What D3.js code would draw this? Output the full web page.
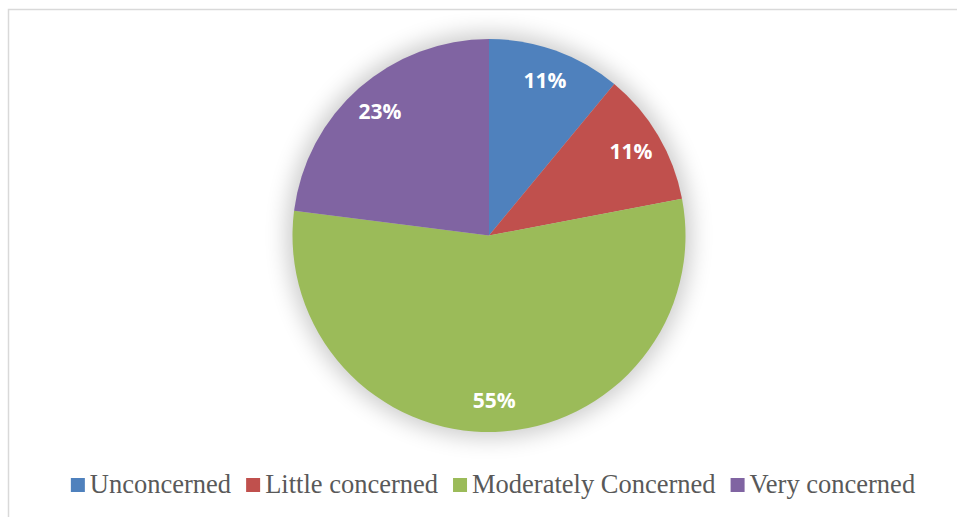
<!DOCTYPE html>
<html lang="en">
<head>
<meta charset="UTF-8">
<title>Concern pie</title>
<script src="https://cdn.jsdelivr.net/npm/d3@7"></script>
<style>
  body { margin: 0; background: #fff; }
  svg { display: block; }
  .lbl { fill: #fff; font-family: "Open Sans", sans-serif; font-weight: 700; font-size: 21px; }
  .leg text { fill: #595959; font-family: "Liberation Serif", "Times New Roman", serif; font-size: 26.5px; }
</style>
</head>
<body>
<div id="chart"></div>
<script>
// chart data
var categories = ["Unconcerned", "Little concerned", "Moderately Concerned", "Very concerned"];
var values = [11, 11, 55, 23];
var colours = ["#4F81BD", "#C0504D", "#9BBB59", "#8064A2"];

var W = 957, H = 517;
var cx = 489, cy = 235.5, R = 196.5;

var svg = d3.select("#chart").append("svg").attr("width", W).attr("height", H);

// soft glow behind the pie
var f = svg.append("defs").append("filter").attr("id", "glow")
  .attr("x", "-30%").attr("y", "-30%").attr("width", "160%").attr("height", "160%");
f.append("feGaussianBlur").attr("stdDeviation", 11);

// outer frame
svg.append("rect").attr("x", 8.5).attr("y", 9.5).attr("width", 960).attr("height", 520)
  .attr("fill", "none").attr("stroke", "#d9d9d9").attr("stroke-width", 1.5);

var g = svg.append("g").attr("transform", "translate(" + cx + "," + cy + ")");

g.append("circle").attr("r", R + 6).attr("fill", "#000").attr("opacity", 0.2)
  .attr("filter", "url(#glow)");

var pie = d3.pie().sort(null).value(function(d) { return d; });
var arcs = pie(values);
var arc = d3.arc().innerRadius(0).outerRadius(R);
var lblArc = d3.arc().innerRadius(R * 0.84).outerRadius(R * 0.84);

g.selectAll("path.slice").data(arcs).enter().append("path")
  .attr("class", "slice")
  .attr("d", arc)
  .attr("fill", function(d, i) { return colours[i]; });

var total = d3.sum(values);
g.selectAll("text.lbl").data(arcs).enter().append("text")
  .attr("class", "lbl")
  .attr("transform", function(d) { return "translate(" + lblArc.centroid(d) + ")"; })
  .attr("text-anchor", "middle")
  .attr("dy", "0.36em")
  .text(function(d) { return Math.round(d.value / total * 100) + "%"; });

// legend
var leg = svg.append("g").attr("class", "leg");
var box = 14, gapBox = 5, gapItem = 15;
var items = leg.selectAll("g").data(categories).enter().append("g");
items.append("rect").attr("width", box).attr("height", box)
  .attr("fill", function(d, i) { return colours[i]; });
items.append("text").attr("x", box + gapBox).attr("y", box + 1).text(function(d) { return d; });

var x = 0, xs = [];
items.each(function() {
  var w = d3.select(this).select("text").node().getComputedTextLength();
  xs.push(x);
  x += box + gapBox + w + gapItem;
});
var legW = x - gapItem;
var x0 = 493 - legW / 2;
items.attr("transform", function(d, i) { return "translate(" + (x0 + xs[i]) + ",478)"; });
</script>
</body>
</html>
